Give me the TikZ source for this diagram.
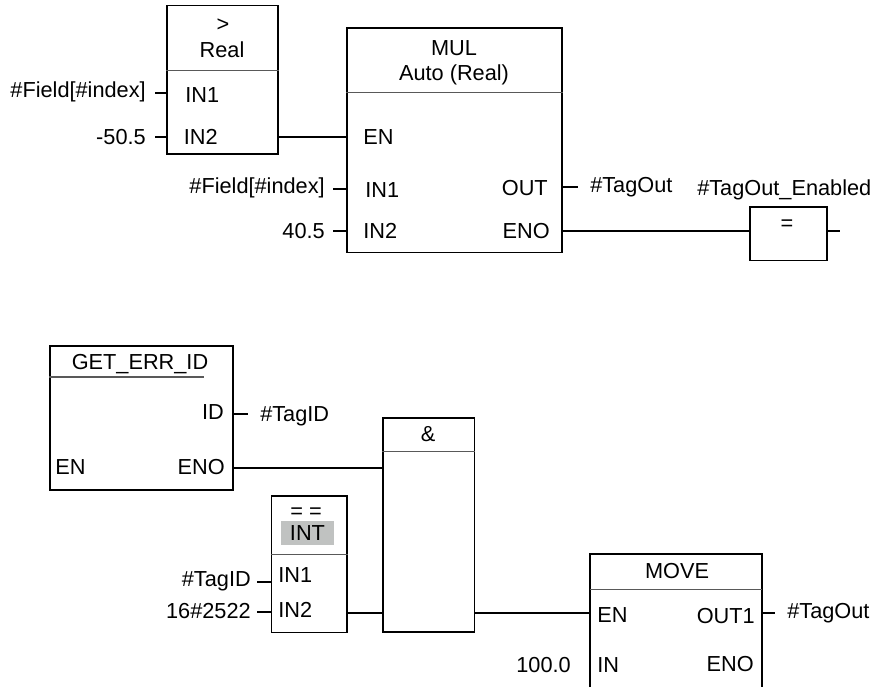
\documentclass[tikz,border=0pt]{standalone}
\usepackage{fontspec}
\setmainfont{Liberation Sans}
\usepackage{xcolor}
\usetikzlibrary{positioning,fit}
\definecolor{hilite}{HTML}{C0C2C1}
\begin{document}
\begin{tikzpicture}[
  x=.75pt, y=-.75pt, font=\fontsize{16.3}{19}\selectfont, line cap=butt,
  fb/.style={draw, line width=1.3pt, inner sep=0pt},
  fc/.style={fb, line width=1.1pt},
  txt/.style={inner sep=0pt, text height=11.75pt, text depth=0pt},
  lft/.style={txt, anchor=west},
  rgt/.style={txt, anchor=east},
  wire/.style={line width=1.1pt},
  divi/.style={draw=black!65, line width=.7pt}]
\useasboundingbox (0,0) rectangle (874,687);
\node[fb, fit={(167,5.5)(278,154)}] (gt) {};
\node[fb, fit={(347,28)(562,252.5)}] (mul) {};
\node[fc, fit={(750,207)(827,260.5)}] (coil) {};
\node[fb, fit={(50,346)(233,490)}] (get) {};
\node[fc, fit={(383,418)(474.5,632)}] (and) {};
\node[fc, fit={(271.5,496)(347,632.5)}] (cmp) {};
\draw[divi] (gt.west |- 0,70) -- (gt.east |- 0,70);
\draw[divi] (mul.west |- 0,92.5) -- (mul.east |- 0,92.5);
\draw[divi] (and.west |- 0,451) -- (and.east |- 0,451);
\draw[divi] (cmp.west |- 0,554) -- (cmp.east |- 0,554);
\coordinate (gdiv) at (204,377);
\draw[divi, line width=1pt] (get.west |- gdiv) -- (gdiv);
\coordinate (mvbl) at (590,687);
\coordinate (mvbr) at (762,687);
\draw[line width=1.3pt] (mvbl) |- (mvbr |- 0,554) -- (mvbr);
\draw[divi] (mvbl |- 0,589) -- (mvbr |- 0,589);
\node[txt] (gtop) at (223,24) {>};
\node[txt] (gtype) at (222,50) {Real};
\node[lft] (gtin1) at (185,95) {IN1};
\node[lft] (gtin2) at (183.5,137) {IN2};
\node[rgt] (gtla) at (146,90) {\#Field[\#index]};
\node[rgt] (gtlb) at (146,137) {-50.5};
\node[txt] (mulop) at (454,48) {MUL};
\node[txt] (multype) at (454,73) {Auto (Real)};
\node[lft] (mulen) at (363,137) {EN};
\node[lft] (mulin1) at (365,190) {IN1};
\node[lft] (mulin2) at (363,231) {IN2};
\node[rgt] (mulout) at (548,188) {OUT};
\node[rgt] (muleno) at (550,231) {ENO};
\node[rgt] (mulla) at (325,186) {\#Field[\#index]};
\node[rgt] (mullb) at (325,231) {40.5};
\node[lft] (mulres) at (590,185) {\#TagOut};
\node[lft] (coilname) at (697,188) {\#TagOut\_Enabled};
\node[txt] (coilop) at (787,223) {=};
\node[txt] (getop) at (140,361.5) {GET\_ERR\_ID};
\node[rgt] (getid) at (224,412) {ID};
\node[lft] (geten) at (55,467) {EN};
\node[rgt] (geteno) at (225,467) {ENO};
\node[lft] (getres) at (260,414) {\#TagID};
\node[txt] (andop) at (428,434) {\&};
\node[txt] (cmpop) at (306,511) {= =};
\node[inner sep=0pt, fill=hilite, minimum width=39.75pt, minimum height=18pt] (cmptype) at (307.5,533) {INT};
\node[lft] (cmpin1) at (278,575) {IN1};
\node[lft] (cmpin2) at (278,610) {IN2};
\node[rgt] (cmpla) at (251,579) {\#TagID};
\node[rgt] (cmplb) at (251,611) {16\#2522};
\node[txt] (mvop) at (677,571) {MOVE};
\node[lft] (mven) at (597,615) {EN};
\node[rgt] (mvout) at (755,616) {OUT1};
\node[lft] (mvin) at (597,665) {IN};
\node[rgt] (mveno) at (754,664) {ENO};
\node[rgt] (mvla) at (571,665) {100.0};
\node[lft] (mvres) at (787,611) {\#TagOut};
\coordinate (gta) at (155,93);
\coordinate (gtb) at (155,137);
\coordinate (mula) at (333,189);
\coordinate (mulb) at (333,231);
\coordinate (mulo) at (578,187);
\coordinate (coilo) at (840,231);
\coordinate (geto) at (248,414);
\coordinate (cmpa) at (257,582);
\coordinate (cmpb) at (257,612);
\coordinate (mvo) at (775,613);
\coordinate (mvi) at (590,613);
\draw[wire] (gt.west |- gta) -- (gta);
\draw[wire] (gt.west |- gtb) -- (gtb);
\draw[wire] (gt.east |- gtb) -- (mul.west |- gtb);
\draw[wire] (mul.west |- mula) -- (mula);
\draw[wire] (mul.west |- mulb) -- (mulb);
\draw[wire] (mul.east |- mulo) -- (mulo);
\draw[wire] (mul.east |- coilo) -- (coil.west |- coilo);
\draw[wire] (coil.east |- coilo) -- (coilo);
\draw[wire] (get.east |- geto) -- (geto);
\draw[wire] (get.east |- 0,468) -- (and.west |- 0,468);
\draw[wire] (cmp.west |- cmpa) -- (cmpa);
\draw[wire] (cmp.west |- cmpb) -- (cmpb);
\draw[wire] (cmp.east |- 0,613) -- (and.west |- 0,613);
\draw[wire] (and.east |- mvi) -- (mvi);
\draw[wire] (mvbr |- mvo) -- (mvo);
\end{tikzpicture}
\end{document}
